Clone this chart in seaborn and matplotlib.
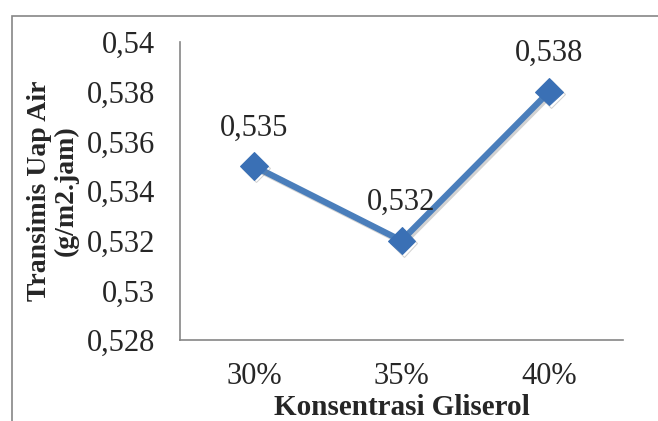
import matplotlib
matplotlib.use('Agg')
import matplotlib.pyplot as plt
import matplotlib.patches as mpatches
import matplotlib.patheffects as pe
import pandas as pd
import seaborn as sns

# data
konsentrasi = ['30%', '35%', '40%']
transmisi = [0.535, 0.532, 0.538]
value_labels = ['0,535', '0,532', '0,538']
y_ticks = [0.528, 0.53, 0.532, 0.534, 0.536, 0.538, 0.54]
y_tick_labels = ['0,528', '0,53', '0,532', '0,534', '0,536', '0,538', '0,54']

LINE_BLUE = '#4A7EBB'
MARK_BLUE = '#3A70B5'
GRAY = '#868686'


def main():
    sns.set_style('white')
    plt.rcParams['font.family'] = ['Liberation Serif', 'DejaVu Serif']

    df = pd.DataFrame({'Konsentrasi': konsentrasi, 'Transmisi': transmisi})

    fig = plt.figure(figsize=(6.58, 4.21), dpi=100)
    ax = fig.add_axes([0.2736, 0.1924, 0.6732, 0.7078])

    g = sns.lineplot(data=df, x='Konsentrasi', y='Transmisi', ax=ax,
                     color=LINE_BLUE, linewidth=4.5, marker='D',
                     markersize=14, markerfacecolor=MARK_BLUE,
                     markeredgecolor=MARK_BLUE, sort=False)
    for line in g.lines:
        line.set_path_effects([pe.SimpleLineShadow(offset=(1.5, -1.5), shadow_color='gray', alpha=0.35),
                               pe.Normal()])

    # data labels above each point
    for i, (v, s) in enumerate(zip(transmisi, value_labels)):
        g.annotate(s, (i, v), xytext=(0, 17), textcoords='offset points',
                   ha='center', va='bottom', fontsize=22)

    g.set_ylim(0.528, 0.54)
    g.set_yticks(y_ticks)
    g.set_yticklabels(y_tick_labels, fontsize=22)

    g.set_xlim(-0.5, 2.5)
    g.set_xticks([-0.5, 0.5, 1.5, 2.5])
    g.set_xticklabels([])
    g.set_xticks([0, 1, 2], minor=True)
    g.set_xticklabels(konsentrasi, minor=True, fontsize=22)
    g.tick_params(axis='x', which='major', length=8, width=1.2, color=GRAY, direction='out')
    g.tick_params(axis='x', which='minor', length=0, pad=16)
    g.tick_params(axis='y', length=8, width=1.2, color=GRAY, direction='out', pad=10)

    sns.despine(ax=g, top=True, right=True)
    for side in ['left', 'bottom']:
        g.spines[side].set_color(GRAY)
        g.spines[side].set_linewidth(1.2)

    g.set_xlabel('Konsentrasi Gliserol', fontsize=21, fontweight='bold')
    g.xaxis.set_label_coords(0.5, -0.18)
    g.set_ylabel('Transimis Uap Air\n(g/m2.jam)', fontsize=20, fontweight='bold',
                 linespacing=1.1)
    g.yaxis.set_label_coords(-0.229, 0.5)

    # chart area border (cut off at right and bottom)
    border = mpatches.Rectangle((12 / 658, -0.2), 1.2, 1.2 - 16 / 421,
                                transform=fig.transFigure, fill=False,
                                edgecolor=GRAY, linewidth=1.2)
    fig.patches.append(border)

    fig.savefig('out.png', dpi=100)
    plt.close(fig)


if __name__ == '__main__':
    main()
